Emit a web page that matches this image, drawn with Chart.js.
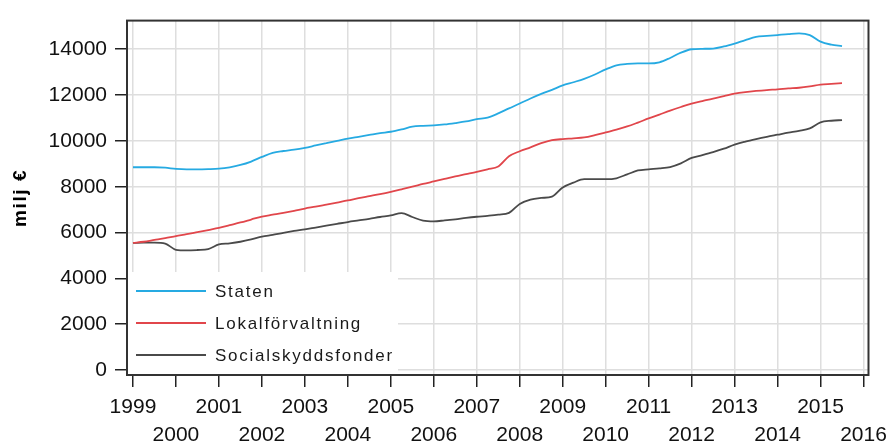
<!DOCTYPE html>
<html>
<head>
<meta charset="utf-8">
<script src="https://cdn.jsdelivr.net/npm/chart.js@4.4.1/dist/chart.umd.min.js"></script>
<style>
  html, body { margin: 0; padding: 0; background: #fff; }
  #c { display: block; }
</style>
</head>
<body>
<canvas id="c" width="893" height="447"></canvas>
<script>
// ---- Data (quarterly, milj €) ----
const periods = [
  '1999Q1','1999Q2','1999Q3','1999Q4',
  '2000Q1','2000Q2','2000Q3','2000Q4',
  '2001Q1','2001Q2','2001Q3','2001Q4',
  '2002Q1','2002Q2','2002Q3','2002Q4',
  '2003Q1','2003Q2','2003Q3','2003Q4',
  '2004Q1','2004Q2','2004Q3','2004Q4',
  '2005Q1','2005Q2','2005Q3','2005Q4',
  '2006Q1','2006Q2','2006Q3','2006Q4',
  '2007Q1','2007Q2','2007Q3','2007Q4',
  '2008Q1','2008Q2','2008Q3','2008Q4',
  '2009Q1','2009Q2','2009Q3','2009Q4',
  '2010Q1','2010Q2','2010Q3','2010Q4',
  '2011Q1','2011Q2','2011Q3','2011Q4',
  '2012Q1','2012Q2','2012Q3','2012Q4',
  '2013Q1','2013Q2','2013Q3','2013Q4',
  '2014Q1','2014Q2','2014Q3','2014Q4',
  '2015Q1','2015Q2','2015Q3'
];

const staten = [
  8850, 8850, 8850, 8830,
  8780, 8760, 8760, 8770,
  8790, 8850, 8950, 9100,
  9300, 9480, 9560, 9620,
  9700, 9800, 9900, 10000,
  10100, 10180, 10260, 10340,
  10400, 10500, 10620, 10660,
  10680, 10720, 10780, 10850,
  10950, 11020, 11200, 11420,
  11630, 11850, 12050, 12230,
  12420, 12560, 12710, 12900,
  13120, 13300, 13360, 13380,
  13380, 13430, 13620, 13850,
  14000, 14020, 14030, 14120,
  14250, 14400, 14540, 14580,
  14620, 14660, 14690, 14620,
  14330, 14200, 14140
];

const lokalforvaltning = [
  5550, 5600, 5680, 5760,
  5850, 5930, 6020, 6110,
  6200, 6320, 6440, 6570,
  6700, 6780, 6860, 6950,
  7050, 7130, 7220, 7310,
  7400, 7500, 7590, 7680,
  7780, 7890, 8000, 8120,
  8230, 8340, 8450, 8550,
  8650, 8760, 8880, 9330,
  9550, 9720, 9900, 10030,
  10080, 10110, 10150, 10250,
  10370, 10490, 10630, 10800,
  10980, 11150, 11320, 11480,
  11630, 11740, 11850, 11950,
  12060, 12130, 12180, 12220,
  12250, 12290, 12320, 12380,
  12460, 12490, 12520
];

const socialskyddsfonder = [
  5550, 5560, 5560, 5520,
  5250, 5220, 5240, 5280,
  5480, 5530, 5600, 5700,
  5820, 5900, 5990, 6070,
  6140, 6220, 6300, 6380,
  6460, 6530, 6600, 6680,
  6750, 6850, 6680, 6520,
  6490, 6530, 6580, 6640,
  6690, 6730, 6780, 6860,
  7250, 7440, 7510, 7570,
  7970, 8180, 8330, 8330,
  8330, 8370, 8540, 8710,
  8760, 8800, 8860, 9020,
  9260, 9380, 9510, 9660,
  9840, 9970, 10080, 10180,
  10270, 10360, 10440, 10550,
  10810, 10880, 10910
];

const seriesNames = ['Staten', 'Lokalförvaltning', 'Socialskyddsfonder'];
const yearTicks = [1999,2000,2001,2002,2003,2004,2005,2006,2007,2008,2009,2010,2011,2012,2013,2014,2015,2016];
const valueTicks = [0,2000,4000,6000,8000,10000,12000,14000];
const yTitle = 'milj €';

// ---- helpers ----
const periodToX = p => Number(p.slice(0, 4)) + (Number(p.slice(5)) - 1) / 4;
const toPoints = vals => periods.map((p, i) => ({ x: periodToX(p), y: vals[i] }));

const colors = ['#26aae2', '#e1464b', '#4a4a4a'];

const frameAndLegend = {
  id: 'frameAndLegend',
  afterLayout(chart) {
    const s = chart.scales.y;
    if (s && !s._spacedTitle) {
      const orig = s.drawTitle.bind(s);
      s.drawTitle = function () {
        const ctx = this.ctx;
        ctx.save();
        try { ctx.letterSpacing = '1.6px'; } catch (e) {}
        orig();
        ctx.restore();
      };
      s._spacedTitle = true;
    }
  },
  afterDatasetsDraw(chart) {
    const { ctx, chartArea: a } = chart;
    ctx.save();
    // legend box (white, inside plot, bottom-left)
    const bx = a.left, bw = 271, bh = 103, by = a.bottom - bh;
    ctx.fillStyle = '#ffffff';
    ctx.fillRect(bx, by, bw, bh);
    const rows = [a.bottom - 84, a.bottom - 52, a.bottom - 20];
    ctx.font = '17px "Liberation Sans", Arial, sans-serif';
    try { ctx.letterSpacing = '1.75px'; } catch (e) {}
    ctx.textBaseline = 'middle';
    ctx.textAlign = 'left';
    chart.data.datasets.forEach((ds, i) => {
      const y = rows[i];
      ctx.strokeStyle = ds.borderColor;
      ctx.lineWidth = 2;
      ctx.beginPath();
      ctx.moveTo(a.left + 9, y);
      ctx.lineTo(a.left + 79, y);
      ctx.stroke();
      ctx.fillStyle = '#1a1a1a';
      ctx.fillText(ds.label, a.left + 88, y + 1);
    });
    try { ctx.letterSpacing = '0px'; } catch (e) {}
    ctx.restore();
  },
  afterDraw(chart) {
    const { ctx, chartArea: a } = chart;
    ctx.save();
    ctx.strokeStyle = '#333';
    ctx.lineWidth = 2;
    ctx.strokeRect(a.left, a.top, a.right - a.left, a.bottom - a.top);
    ctx.restore();
  }
};

new Chart(document.getElementById('c'), {
  type: 'line',
  data: {
    datasets: [
      { label: seriesNames[0], data: toPoints(staten), borderColor: colors[0] },
      { label: seriesNames[1], data: toPoints(lokalforvaltning), borderColor: colors[1] },
      { label: seriesNames[2], data: toPoints(socialskyddsfonder), borderColor: colors[2] }
    ].map(d => Object.assign(d, {
      borderWidth: 1.8, pointRadius: 0, fill: false, cubicInterpolationMode: 'monotone'
    }))
  },
  options: {
    responsive: false,
    animation: false,
    devicePixelRatio: 1,
    layout: { padding: { left: 0, top: 16, right: 20, bottom: 0 } },
    plugins: { legend: { display: false }, tooltip: { enabled: false } },
    scales: {
      x: {
        type: 'linear',
        min: 1998.861,
        max: 2016.116,
        afterBuildTicks: s => { s.ticks = yearTicks.map(v => ({ value: v })); },
        afterFit: s => { s.height = 72; },
        border: { display: false },
        grid: { color: '#dedede', lineWidth: 1.5, tickColor: '#222', tickLength: 12, tickWidth: 1.5 },
        ticks: {
          autoSkip: false, maxRotation: 0, minRotation: 0, padding: 6,
          color: '#111',
          font: { family: '"Liberation Sans", Arial, sans-serif', size: 21, lineHeight: 1.333 },
          callback: v => {
            const idx = yearTicks.indexOf(v);
            return idx % 2 === 0 ? [String(v)] : ['', String(v)];
          }
        }
      },
      y: {
        type: 'linear',
        min: -215,
        max: 15250,
        afterBuildTicks: s => { s.ticks = valueTicks.map(v => ({ value: v })); },
        afterFit: s => { s.width = 127; },
        border: { display: false },
        grid: { color: '#dedede', lineWidth: 1.5, tickColor: '#222', tickLength: 12, tickWidth: 1.5 },
        ticks: {
          padding: 8, color: '#111',
          font: { family: '"Liberation Sans", Arial, sans-serif', size: 21 },
          callback: v => String(v)
        },
        title: {
          display: true, text: yTitle, color: '#000',
          font: { family: '"Liberation Sans", Arial, sans-serif', size: 19, weight: 'bold' },
          padding: { top: 9, bottom: 0 }
        }
      }
    }
  },
  plugins: [frameAndLegend]
});
</script>
</body>
</html>
